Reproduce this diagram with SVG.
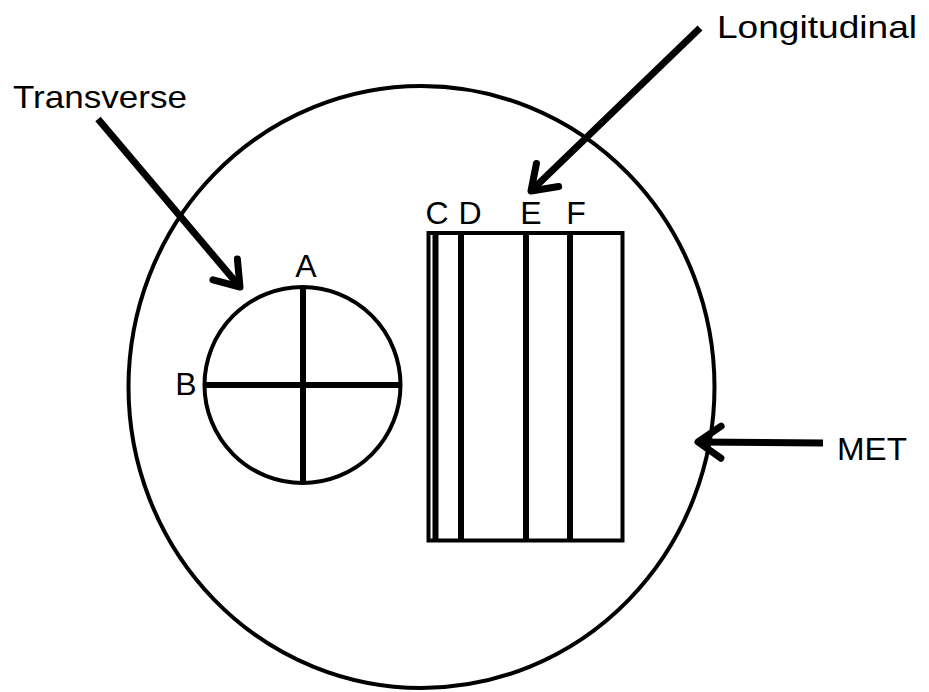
<svg xmlns="http://www.w3.org/2000/svg" width="929" height="692" viewBox="0 0 929 692">
  <style>
    .outline { fill: none; stroke: #000; stroke-width: 4; }
    .bar { stroke: #000; stroke-width: 6; }
    .arrow { fill: none; stroke: #000; stroke-width: 7; marker-end: url(#head); }
    .label { font-family: "Liberation Sans", Arial, sans-serif; font-size: 32px; fill: #000; }
  </style>
  <defs>
    <marker id="head" markerUnits="userSpaceOnUse" viewBox="-30 -30 60 60" markerWidth="60" markerHeight="60" refX="0" refY="0" orient="auto" overflow="visible">
      <path d="M -23 -16 L 0 0 L -23 16" fill="none" stroke="#000" stroke-width="7" stroke-linejoin="round" stroke-linecap="round"/>
    </marker>
  </defs>

  <g id="met">
    <ellipse class="outline" cx="421.5" cy="387" rx="293" ry="301"/>
  </g>

  <g id="transverse-section">
    <circle class="outline" cx="302.5" cy="385" r="98"/>
    <line class="bar" x1="303" y1="286" x2="303" y2="484"/>
    <line class="bar" x1="205" y1="385" x2="401" y2="385"/>
    <text class="label" x="306" y="277" text-anchor="middle">A</text>
    <text class="label" x="186" y="395" text-anchor="middle">B</text>
  </g>

  <g id="longitudinal-section">
    <rect class="outline" x="428.5" y="233" width="194" height="307.5" stroke-width="4.5"/>
    <line class="bar" x1="435.5" y1="233" x2="435.5" y2="540.5"/>
    <line class="bar" x1="461" y1="233" x2="461" y2="540.5"/>
    <line class="bar" x1="526" y1="233" x2="526" y2="540.5"/>
    <line class="bar" x1="570" y1="233" x2="570" y2="540.5"/>
    <text class="label" x="437" y="224" text-anchor="middle">C</text>
    <text class="label" x="470" y="224" text-anchor="middle">D</text>
    <text class="label" x="531" y="224" text-anchor="middle">E</text>
    <text class="label" x="576" y="224" text-anchor="middle">F</text>
  </g>

  <g id="label-transverse">
    <text class="label" x="13" y="108" textLength="174" lengthAdjust="spacingAndGlyphs">Transverse</text>
  </g>
  <g id="label-longitudinal">
    <text class="label" x="717" y="38" textLength="200" lengthAdjust="spacingAndGlyphs">Longitudinal</text>
  </g>
  <g id="label-met">
    <text class="label" x="837" y="460" textLength="70" lengthAdjust="spacingAndGlyphs">MET</text>
  </g>

  <g id="connectors">
    <line class="arrow" x1="98" y1="119" x2="240" y2="287"/>
    <line class="arrow" x1="700" y1="28" x2="531" y2="191"/>
    <line class="arrow" x1="823" y1="443" x2="698" y2="442"/>
  </g>
</svg>
